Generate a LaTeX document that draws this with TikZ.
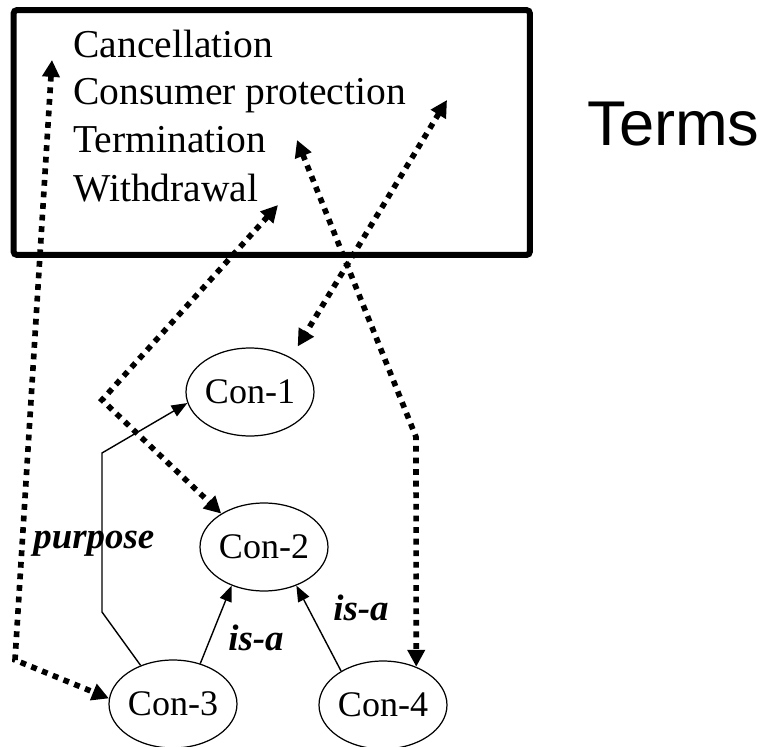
\documentclass[tikz,border=0pt]{standalone}
\usepackage{fontspec}
\setmainfont{Liberation Serif}
\newfontfamily\termsfont{Liberation Sans}
\usepackage{tikz}
\usetikzlibrary{positioning,arrows.meta,shapes.geometric}

\begin{document}
\begin{tikzpicture}[
  x=0.02cm, y=-0.02cm,
  con/.style={draw, ellipse, line width=0.7pt, minimum width=2.56cm, minimum height=1.76cm, inner sep=0pt, font=\fontsize{20.5}{24}\selectfont},
  item/.style={anchor=base west, inner sep=0pt, font=\fontsize{22.5}{27}\selectfont},
  rel/.style={anchor=base west, inner sep=0pt, font=\fontsize{21}{25}\selectfont\bfseries\itshape},
  solarr/.style={line width=0.8pt, -{Triangle[length=9pt, width=7pt]}},
  dotarr/.style={line width=3.2pt, dash pattern=on 3.3pt off 3.3pt,
    {Triangle[length=9.6pt, width=9.6pt]}-{Triangle[length=9.6pt, width=9.6pt]}}]
\useasboundingbox (0,0) rectangle (769,747);
% term list
\node[draw, line width=3.4pt, rounded corners=2pt, minimum width=10.33cm, minimum height=4.9cm] (termbox) at (271.75,132.5) {};
\node[item] (cancel) at (73,57) {Cancellation};
\node[item] (consumer) at (73,105) {Consumer protection};
\node[item] (termin) at (73,153) {Termination};
\node[item] (withdr) at (73,201) {Withdrawal};
\node[anchor=base west, inner sep=0pt, font=\termsfont\fontsize{36}{42}\selectfont] (terms) at (587,145) {Terms};
% concepts
\node[con] (con1) at (250,392) {Con-1};
\node[con] (con2) at (264,547) {Con-2};
\node[con] (con3) at (173,704) {Con-3};
\node[con] (con4) at (383,705) {Con-4};
% relations
\draw[solarr] (con3.130) -- (102,612) -- (102,453) -- (con1.190);
\draw[solarr] (con3.56) -- (con2.230);
\draw[solarr] (con4.141) -- (con2.310);
\node[rel] (purp) at (33,548) {purpose};
\node[rel] (isa1) at (228,650) {is-a};
\node[rel] (isa2) at (333,620) {is-a};
% term links
\coordinate (cancelEnd) at (52,60);
\coordinate (leftBend) at (15,660);
\coordinate (withdrEnd) at (278,205);
\coordinate (midBend) at (102,400);
\coordinate (protEnd) at (447,100);
\coordinate (termEnd) at (297,140);
\coordinate (rightBend) at (416,437);
\draw[dotarr] (cancelEnd) -- (leftBend) -- (con3.175);
\draw[dotarr] (withdrEnd) -- (midBend) -- (con2.142);
\draw[dotarr] (protEnd) -- ([shift={(2,-14)}]con1.north east);
\draw[dotarr] (termEnd) -- (rightBend) -- (con4.49);
\end{tikzpicture}
\end{document}
